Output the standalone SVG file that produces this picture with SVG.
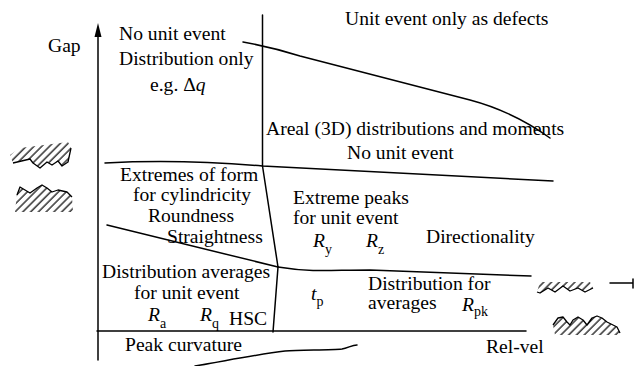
<svg xmlns="http://www.w3.org/2000/svg" width="634" height="366" viewBox="0 0 634 366" font-family="'Liberation Serif', Tinos, 'Times New Roman', 'DejaVu Serif', serif">
  <style>
    text { font-family: 'Liberation Serif', Tinos, 'Times New Roman', 'DejaVu Serif', serif; font-size: 19.6px; fill: #000; }
    .it { font-style: italic; }
    .sub { font-size: 14px; font-style: normal; }
    .ln { fill: none; stroke: #000; stroke-width: 1.5; stroke-linejoin: round; stroke-linecap: round; }
    .prof { fill: none; stroke: #000; stroke-width: 1.3; stroke-linejoin: round; }
  </style>
  <defs>
    <pattern id="hatch" patternUnits="userSpaceOnUse" width="5.5" height="5.5" patternTransform="rotate(45)">
      <line x1="1" y1="0" x2="1" y2="5.5" stroke="#000" stroke-width="1.2"/>
    </pattern>
  </defs>

  <rect width="634" height="366" fill="#fff"/>

  <!-- axes and region boundaries -->
  <g id="connectors">
    <line class="ln" x1="98" y1="360" x2="98" y2="34"/>
    <polygon points="98,23 94.5,37 101.5,37" fill="#000"/>
    <line class="ln" x1="97" y1="331" x2="526" y2="331"/>
    <line class="ln" x1="262.5" y1="15" x2="262.5" y2="166"/>
    <path class="ln" d="M243,42 C265,46 278,49 300,56 L470,100 C500,108 525,120 550,138"/>
    <path class="ln" d="M105,163 Q180,159 262.5,166 L553,181"/>
    <path class="ln" d="M262.5,166 L278,267 L273,332"/>
    <path class="ln" d="M107,225 L278,267"/>
    <path class="ln" d="M278,267 C290,269 300,270 313,270.5 C330,271 345,270 370,270 L531,276"/>
    <path class="ln" d="M195,366 C230,360 260,354 285,351 C300,350 330,350 342,349 C348,348 352,345 357,345"/>
    <path class="ln" d="M610,283 H633 M633,279 V288"/>
  </g>

  <!-- axis labels -->
  <g id="axis-labels">
    <text x="48" y="52">Gap</text>
    <text x="486" y="353">Rel-vel</text>
  </g>

  <g id="region-distribution-only">
    <text x="119" y="40">No unit event</text>
    <text x="119" y="65">Distribution only</text>
    <text x="150" y="91">e.g. Δ<tspan class="it">q</tspan></text>
  </g>

  <g id="region-defects">
    <text x="345" y="25">Unit event only as defects</text>
  </g>

  <g id="region-areal">
    <text x="266" y="135">Areal (3D) distributions and moments</text>
    <text x="347" y="159">No unit event</text>
  </g>

  <g id="region-form">
    <text x="120" y="181">Extremes of form</text>
    <text x="133" y="201">for cylindricity</text>
    <text x="148" y="222">Roundness</text>
    <text x="167" y="243">Straightness</text>
  </g>

  <g id="region-extreme-peaks">
    <text x="293" y="204">Extreme peaks</text>
    <text x="293" y="224">for unit event</text>
    <text x="313" y="247"><tspan class="it">R</tspan><tspan class="sub" dy="7">y</tspan></text>
    <text x="366" y="247"><tspan class="it">R</tspan><tspan class="sub" dy="7">z</tspan></text>
    <text x="426" y="243">Directionality</text>
  </g>

  <g id="region-averages">
    <text x="102" y="278">Distribution averages</text>
    <text x="134" y="299">for unit event</text>
    <text x="148" y="321"><tspan class="it">R</tspan><tspan class="sub" dy="7">a</tspan></text>
    <text x="200" y="321"><tspan class="it">R</tspan><tspan class="sub" dy="7">q</tspan></text>
    <text x="229" y="325">HSC</text>
  </g>

  <g id="region-distribution-for-averages">
    <text x="311" y="300"><tspan class="it">t</tspan><tspan class="sub" dy="6">p</tspan></text>
    <text x="368" y="290">Distribution for</text>
    <text x="368" y="309">averages</text>
    <text x="462" y="311"><tspan class="it">R</tspan><tspan class="sub" dy="5">pk</tspan></text>
  </g>

  <g id="region-peak-curvature">
    <text x="125" y="351">Peak curvature</text>
  </g>

  <!-- surface profile sketches -->
  <g id="profile-left-upper">
    <path d="M10,155 L20,148 L68,142 L71,148 L68,162 L62,166 L58,161 L52,165 L47,162 L40,168 L33,163 L30,159 L13,163 Z" fill="url(#hatch)"/>
    <path class="prof" d="M13,163 L30,159 L33,163 L40,168 L47,162 L52,165 L58,161 L62,166 L68,162 L71,148"/>
  </g>
  <g id="profile-left-lower">
    <path d="M17,193 L20,187 L25,190 L30,193 L37,188 L42,185 L47,188 L52,192 L58,190 L67,192 L72,197 L73,212 L15,212 Z" fill="url(#hatch)"/>
    <path class="prof" d="M17,195 L20,187 L25,190 L30,193 L37,188 L42,185 L47,188 L52,192 L58,190 L67,192 L72,197"/>
  </g>
  <g id="profile-right-upper">
    <path d="M540,282 L590,282 L593,288 L585,292 L578,288 L570,291 L563,286 L555,292 L548,288 L540,293 L537,292 Z" fill="url(#hatch)"/>
    <path class="prof" d="M537,292 L540,293 L548,288 L555,292 L563,286 L570,291 L578,288 L585,292 L593,288"/>
  </g>
  <g id="profile-right-lower">
    <path d="M553,325 L558,318 L563,317 L567,322 L570,325 L573,320 L578,317 L583,320 L587,325 L592,318 L597,316 L602,318 L607,322 L617,327 L620,333 L620,335 L555,335 Z" fill="url(#hatch)"/>
    <path class="prof" d="M553,325 L558,318 L563,317 L567,322 L570,325 L573,320 L578,317 L583,320 L587,325 L592,318 L597,316 L602,318 L607,322 L617,327 L620,333"/>
  </g>
</svg>
